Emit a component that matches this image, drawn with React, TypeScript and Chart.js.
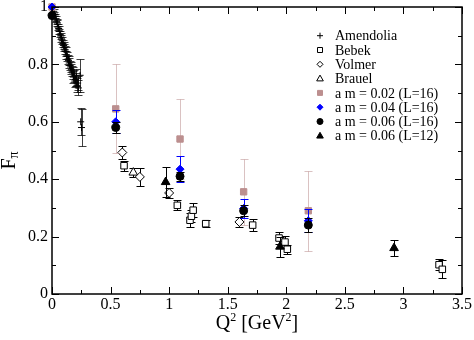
import React, { useEffect, useRef } from 'react';
import { Chart, registerables } from 'chart.js';

Chart.register(...registerables);

// ---------- data ----------
const amendoliaQ2 = [0.015, 0.021, 0.027, 0.033, 0.039, 0.045, 0.051, 0.057, 0.063, 0.069, 0.075, 0.081, 0.087, 0.093, 0.099, 0.105, 0.111, 0.117, 0.123, 0.129, 0.135, 0.141, 0.147, 0.153, 0.159, 0.165, 0.171, 0.177, 0.183, 0.189, 0.195, 0.201, 0.207, 0.213, 0.219, 0.225, 0.240, 0.245, 0.252];
const amendoliaF = [0.985, 0.975, 0.968, 0.958, 0.950, 0.944, 0.930, 0.925, 0.915, 0.905, 0.899, 0.889, 0.882, 0.873, 0.866, 0.858, 0.850, 0.845, 0.833, 0.828, 0.818, 0.814, 0.805, 0.796, 0.791, 0.783, 0.777, 0.770, 0.756, 0.760, 0.742, 0.748, 0.755, 0.727, 0.735, 0.718, 0.762, 0.600, 0.580];
const amendoliaErr = [0.008, 0.008, 0.008, 0.009, 0.009, 0.009, 0.010, 0.010, 0.010, 0.011, 0.011, 0.012, 0.012, 0.012, 0.013, 0.013, 0.014, 0.014, 0.015, 0.015, 0.016, 0.016, 0.017, 0.017, 0.018, 0.018, 0.019, 0.020, 0.020, 0.021, 0.022, 0.022, 0.030, 0.024, 0.025, 0.026, 0.057, 0.047, 0.065];

const bebekQ2 = [0.615, 1.07, 1.178, 1.19, 1.205, 1.312, 1.713, 1.938, 1.989, 2.009, 3.304, 3.332];
const bebekF = [0.447, 0.309, 0.257, 0.271, 0.292, 0.245, 0.240, 0.195, 0.181, 0.156, 0.102, 0.086];
const bebekErr = [0.018, 0.018, 0.025, 0.020, 0.025, 0.013, 0.020, 0.022, 0.020, 0.015, 0.020, 0.031];

const volmerQ2 = [0.6, 0.75, 1.0, 1.6];
const volmerF = [0.493, 0.408, 0.352, 0.251];
const volmerErr = [0.022, 0.030, 0.018, 0.016];

const brauelQ2 = [0.694];
const brauelF = [0.423];
const brauelErr = [0.015];

const latticeQ2 = [0, 0.544, 1.093, 1.636, 2.188];
const am002F = [1.0, 0.645, 0.540, 0.356, 0.290];
const am002Err = [0, 0.155, 0.140, 0.116, 0.140];
const am004F = [1.0, 0.600, 0.435, 0.298, 0.255];
const am004Err = [0, 0.040, 0.045, 0.033, 0.040];
const am006F = [0.97, 0.580, 0.410, 0.290, 0.240];
const am006Err = [0, 0.020, 0.016, 0.019, 0.024];

const l12Q2 = [0.97, 1.946, 2.92];
const l12F = [0.390, 0.165, 0.160];
const l12Err = [0.053, 0.035, 0.027];

const xTicks = [0, 0.5, 1, 1.5, 2, 2.5, 3, 3.5];
const yTicks = [0, 0.2, 0.4, 0.6, 0.8, 1];

const legendLabels = ['Amendolia', 'Bebek', 'Volmer', 'Brauel', 'a m = 0.02 (L=16)', 'a m = 0.04 (L=16)', 'a m = 0.06 (L=16)', 'a m = 0.06 (L=12)'];

const PINK = 'rgb(188,143,143)';
const PINK_ERR = 'rgba(188,143,143,0.55)';
const BLUE = 'rgb(0,0,255)';
const SERIF = '"Liberation Serif", "Times New Roman", serif';

function pts(xs: number[], ys: number[], es: number[]) {
  return xs.map((x, i) => ({ x, y: ys[i], e: es[i] }));
}

const fmt = (v: any) => String(Number(Number(v).toFixed(3)));

// ---------- plugins ----------
const errorBarPlugin = {
  id: 'errorBars',
  beforeDatasetDraw(chart: any, args: any) {
    const ds = chart.data.datasets[args.index];
    if (!ds.errColor) return;
    const ctx = chart.ctx;
    const xs = chart.scales.x;
    const ys = chart.scales.y;
    const cap = 4;
    ctx.save();
    ctx.strokeStyle = ds.errColor;
    ctx.lineWidth = 1;
    for (const p of ds.data) {
      if (!p.e) continue;
      const px = Math.round(xs.getPixelForValue(p.x)) + 0.5;
      const y1 = Math.round(ys.getPixelForValue(p.y + p.e)) + 0.5;
      const y2 = Math.round(ys.getPixelForValue(p.y - p.e)) + 0.5;
      ctx.beginPath();
      ctx.moveTo(px, y1); ctx.lineTo(px, y2);
      ctx.moveTo(px - cap, y1); ctx.lineTo(px + cap, y1);
      ctx.moveTo(px - cap, y2); ctx.lineTo(px + cap, y2);
      ctx.stroke();
    }
    ctx.restore();
  },
};

function drawSymbol(ctx: CanvasRenderingContext2D, kind: string, x: number, y: number, r: number, fill: string, stroke: string) {
  ctx.save();
  ctx.beginPath();
  ctx.lineWidth = 1;
  ctx.strokeStyle = stroke;
  ctx.fillStyle = fill;
  if (kind === 'cross') {
    ctx.moveTo(x - r, y); ctx.lineTo(x + r, y);
    ctx.moveTo(x, y - r); ctx.lineTo(x, y + r);
    ctx.stroke();
  } else if (kind === 'rect') {
    ctx.rect(x - r, y - r, 2 * r, 2 * r);
    ctx.fill(); ctx.stroke();
  } else if (kind === 'diamond') {
    ctx.moveTo(x, y - r); ctx.lineTo(x + r, y); ctx.lineTo(x, y + r); ctx.lineTo(x - r, y); ctx.closePath();
    ctx.fill(); ctx.stroke();
  } else if (kind === 'triangle') {
    ctx.moveTo(x, y - r); ctx.lineTo(x + r * 0.95, y + r * 0.65); ctx.lineTo(x - r * 0.95, y + r * 0.65); ctx.closePath();
    ctx.fill(); ctx.stroke();
  } else if (kind === 'circle') {
    ctx.arc(x, y, r, 0, Math.PI * 2);
    ctx.fill(); ctx.stroke();
  }
  ctx.restore();
}

const legendSymbols = [
  { kind: 'cross', fill: '#000', stroke: '#000', r: 3 },
  { kind: 'rect', fill: '#fff', stroke: '#000', r: 2.5 },
  { kind: 'diamond', fill: '#fff', stroke: '#000', r: 3 },
  { kind: 'triangle', fill: '#fff', stroke: '#000', r: 3.5 },
  { kind: 'rect', fill: PINK, stroke: PINK, r: 2.5 },
  { kind: 'diamond', fill: BLUE, stroke: BLUE, r: 3 },
  { kind: 'circle', fill: '#000', stroke: '#000', r: 3 },
  { kind: 'triangle', fill: '#000', stroke: '#000', r: 3.5 },
];

const framePlugin = {
  id: 'frame',
  afterDraw(chart: any) {
    const ctx: CanvasRenderingContext2D = chart.ctx;
    const { left, right, top, bottom } = chart.chartArea;
    const xs = chart.scales.x;
    const ys = chart.scales.y;
    ctx.save();
    ctx.strokeStyle = '#000';
    ctx.lineWidth = 1;
    const major = 7, minor = 4;
    const xv = xs.ticks.map((t: any) => t.value);
    const yv = ys.ticks.map((t: any) => t.value);
    ctx.beginPath();
    xv.forEach((v: number, i: number) => {
      const px = Math.round(xs.getPixelForValue(v)) + 0.5;
      ctx.moveTo(px, bottom); ctx.lineTo(px, bottom - major);
      ctx.moveTo(px, top); ctx.lineTo(px, top + major);
      if (i < xv.length - 1) {
        const m = Math.round(xs.getPixelForValue((v + xv[i + 1]) / 2)) + 0.5;
        ctx.moveTo(m, bottom); ctx.lineTo(m, bottom - minor);
        ctx.moveTo(m, top); ctx.lineTo(m, top + minor);
      }
    });
    yv.forEach((v: number, i: number) => {
      const py = Math.round(ys.getPixelForValue(v)) + 0.5;
      ctx.moveTo(left, py); ctx.lineTo(left + major, py);
      ctx.moveTo(right, py); ctx.lineTo(right - major, py);
      if (i < yv.length - 1) {
        const m = Math.round(ys.getPixelForValue((v + yv[i + 1]) / 2)) + 0.5;
        ctx.moveTo(left, m); ctx.lineTo(left + minor, m);
        ctx.moveTo(right, m); ctx.lineTo(right - minor, m);
      }
    });
    ctx.stroke();
    ctx.lineWidth = 1.5;
    ctx.strokeRect(left, top, right - left, bottom - top);

    // x title: Q^2 [GeV^2]
    const big = `20px ${SERIF}`;
    const small = `12px ${SERIF}`;
    const parts = [
      { t: 'Q', f: big, dy: 0 },
      { t: '2', f: small, dy: -8 },
      { t: ' [GeV', f: big, dy: 0 },
      { t: '2', f: small, dy: -8 },
      { t: ']', f: big, dy: 0 },
    ];
    let total = 0;
    for (const p of parts) { ctx.font = p.f; total += ctx.measureText(p.t).width; }
    let cx = (left + right) / 2 - total / 2;
    const base = bottom + 35;
    ctx.fillStyle = '#000';
    ctx.textBaseline = 'alphabetic';
    ctx.textAlign = 'left';
    for (const p of parts) {
      ctx.font = p.f;
      ctx.fillText(p.t, cx, base + p.dy);
      cx += ctx.measureText(p.t).width;
    }

    // y title: F_pi
    ctx.save();
    ctx.translate(15, (top + bottom) / 2 + 10);
    ctx.rotate(-Math.PI / 2);
    ctx.font = big;
    const wF = ctx.measureText('F').width;
    ctx.font = `14px ${SERIF}`;
    const wP = ctx.measureText('π').width;
    const sx = -(wF + wP) / 2;
    ctx.font = big;
    ctx.fillText('F', sx, 0);
    ctx.font = `14px ${SERIF}`;
    ctx.fillText('π', sx + wF, 3);
    ctx.restore();

    // legend
    ctx.font = `14px ${SERIF}`;
    ctx.textBaseline = 'middle';
    legendLabels.forEach((lab, i) => {
      const y = 35.7 + i * 14.3;
      const s = legendSymbols[i];
      drawSymbol(ctx, s.kind, 320, y, s.r, s.fill, s.stroke);
      ctx.fillStyle = '#000';
      ctx.fillText(lab, 335, y + 1);
    });
    ctx.restore();
  },
};

export default function App() {
  const ref = useRef<HTMLCanvasElement | null>(null);
  useEffect(() => {
    document.body.style.margin = '0';
    const canvas = ref.current!;
    const datasets: any[] = [
      { label: 'Amendolia', data: pts(amendoliaQ2, amendoliaF, amendoliaErr), pointStyle: 'cross', pointRadius: 3.5, borderColor: '#000', backgroundColor: '#000', borderWidth: 1, errColor: 'rgba(0,0,0,0.75)', order: 5 },
      { label: 'Bebek', data: pts(bebekQ2, bebekF, bebekErr), pointStyle: 'rect', pointRadius: 4.6, borderColor: '#000', backgroundColor: '#fff', borderWidth: 1, errColor: '#000', order: 5 },
      { label: 'Volmer', data: pts(volmerQ2, volmerF, volmerErr), pointStyle: 'rectRot', pointRadius: 4.5, borderColor: '#000', backgroundColor: '#fff', borderWidth: 1, errColor: '#000', order: 5 },
      { label: 'Brauel', data: pts(brauelQ2, brauelF, brauelErr), pointStyle: 'triangle', pointRadius: 5, borderColor: '#000', backgroundColor: '#fff', borderWidth: 1, errColor: '#000', order: 5 },
      { label: 'am002', data: pts(latticeQ2, am002F, am002Err), pointStyle: 'rect', pointRadius: 4.5, borderColor: PINK, backgroundColor: PINK, borderWidth: 1, errColor: PINK_ERR, order: 4 },
      { label: 'am004', data: pts(latticeQ2, am004F, am004Err), pointStyle: 'rectRot', pointRadius: 4, borderColor: BLUE, backgroundColor: BLUE, borderWidth: 1, errColor: BLUE, order: 3 },
      { label: 'am006', data: pts(latticeQ2, am006F, am006Err), pointStyle: 'circle', pointRadius: 4, borderColor: '#000', backgroundColor: '#000', borderWidth: 1, errColor: '#000', order: 2 },
      { label: 'am006L12', data: pts(l12Q2, l12F, l12Err), pointStyle: 'triangle', pointRadius: 5, borderColor: '#000', backgroundColor: '#000', borderWidth: 1, errColor: '#000', order: 1 },
    ];
    datasets.forEach((d) => { d.clip = false; d.pointHoverRadius = d.pointRadius; });

    const chart = new Chart(canvas, {
      type: 'scatter',
      data: { datasets },
      plugins: [errorBarPlugin, framePlugin],
      options: {
        responsive: false,
        animation: false,
        layout: { padding: { left: 0, top: 7, right: 12, bottom: 0 } },
        plugins: { legend: { display: false }, tooltip: { enabled: false } },
        scales: {
          x: {
            type: 'linear', min: 0, max: 3.5,
            grid: { display: false, drawTicks: false },
            border: { display: false },
            afterBuildTicks: (s: any) => { s.ticks = xTicks.map((v) => ({ value: v })); },
            ticks: { color: '#000', font: { family: SERIF, size: 16 }, padding: 1, maxRotation: 0, autoSkip: false, callback: fmt },
            afterFit: (s: any) => { s.height = 46; s.paddingLeft = 0; s.paddingRight = 0; },
          },
          y: {
            type: 'linear', min: 0, max: 1,
            grid: { display: false, drawTicks: false },
            border: { display: false },
            afterBuildTicks: (s: any) => { s.ticks = yTicks.map((v) => ({ value: v })); },
            ticks: { color: '#000', font: { family: SERIF, size: 16 }, padding: 4, autoSkip: false, callback: fmt },
            afterFit: (s: any) => { s.width = 52; s.paddingTop = 0; s.paddingBottom = 0; },
          },
        },
      } as any,
    });
    return () => chart.destroy();
  }, []);
  return <canvas ref={ref} width={474} height={340} style={{ display: 'block' }} />;
}
